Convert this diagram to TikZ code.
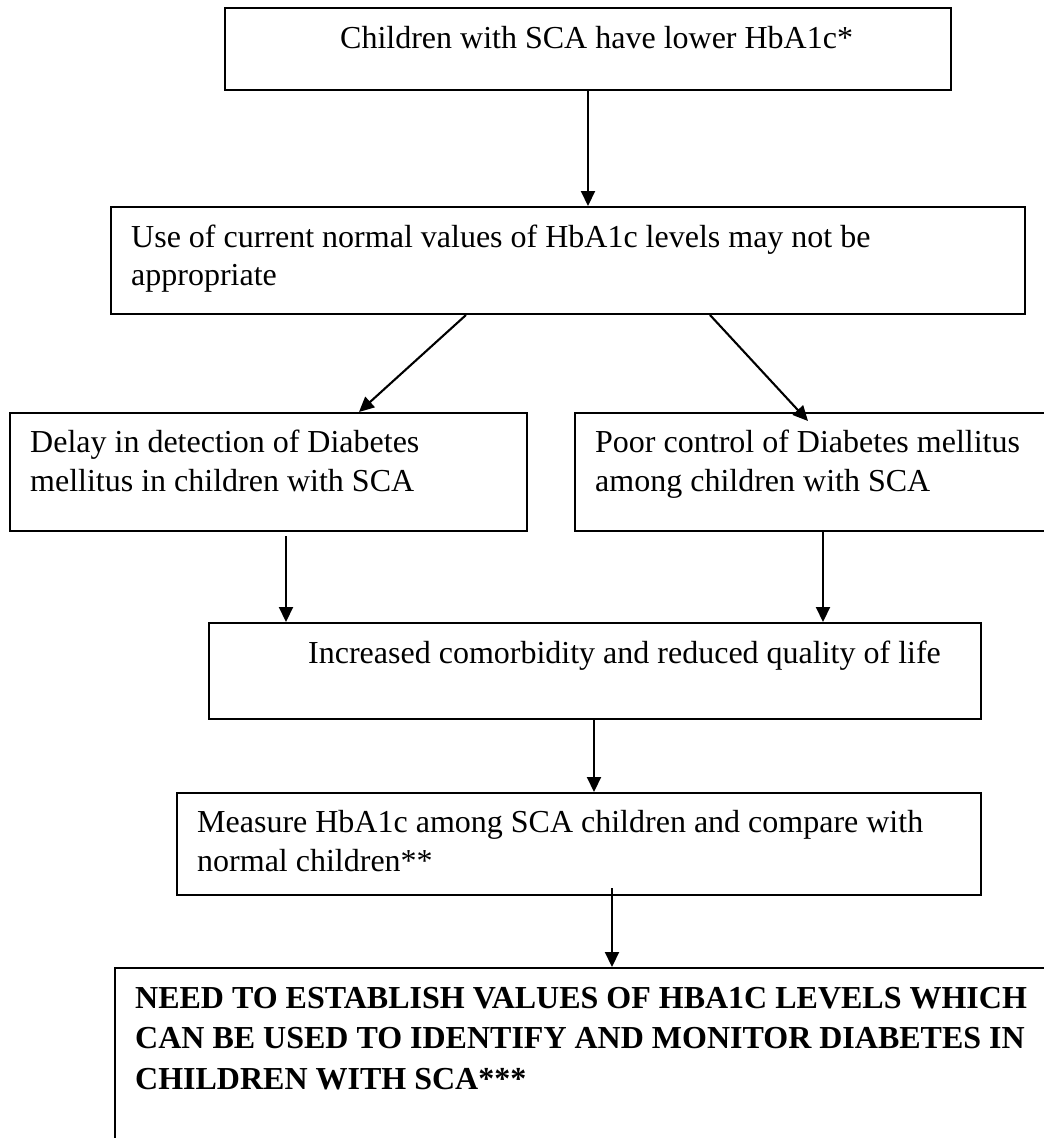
\documentclass[tikz,border=0pt]{standalone}
\usepackage{fontspec}
\setmainfont{Liberation Serif}
\usetikzlibrary{arrows.meta}
\tikzset{
  box/.style={draw=black, line width=2pt, inner sep=0pt, anchor=north west},
  txt/.style={anchor=base west, inner sep=0pt, font=\fontsize{32}{39}\selectfont},
  btxt/.style={anchor=base west, inner sep=0pt, font=\fontsize{32}{40}\selectfont\bfseries},
  arr/.style={line width=2.1pt, -{Triangle[length=15pt,width=14pt]}}
}
\begin{document}
\begin{tikzpicture}[x=1pt,y=-1pt]
\clip (0,0) rectangle (1044,1138);
\fill[white] (0,0) rectangle (1044,1138);
% boxes
\node[box, minimum width=726pt, minimum height=82pt] (b1) at (224,7) {};
\node[box, minimum width=914pt, minimum height=107pt] (b2) at (110,206) {};
\node[box, minimum width=517pt, minimum height=118pt] (b3) at (9,412) {};
\node[box, minimum width=480pt, minimum height=118pt] (b4) at (574,412) {};
\node[box, minimum width=772pt, minimum height=96pt] (b5) at (208,622) {};
\node[box, minimum width=804pt, minimum height=102pt] (b6) at (176,792) {};
\node[box, minimum width=940pt, minimum height=190pt] (b7) at (114,967) {};
% texts
\node[txt] (t1) at (340,48) {Children with SCA have lower HbA1c*};
\node[txt] (t2a) at (131,247) {Use of current normal values of HbA1c levels may not be};
\node[txt] (t2b) at (131,285) {appropriate};
\node[txt] (t3a) at (30,452) {Delay in detection of Diabetes};
\node[txt] (t3b) at (30,491) {mellitus in children with SCA};
\node[txt] (t4a) at (595,452) {Poor control of Diabetes mellitus};
\node[txt] (t4b) at (595,491) {among children with SCA};
\node[txt] (t5) at (308,663) {Increased comorbidity and reduced quality of life};
\node[txt] (t6a) at (197,832) {Measure HbA1c among SCA children and compare with};
\node[txt] (t6b) at (197,871) {normal children**};
\node[btxt] (t7a) at (135,1008) {NEED TO ESTABLISH VALUES OF HBA1C LEVELS WHICH};
\node[btxt] (t7b) at (135,1048) {CAN BE USED TO IDENTIFY AND MONITOR DIABETES IN};
\node[btxt] (t7c) at (135,1089) {CHILDREN WITH SCA***};
% connectors
\draw[arr] ([xshift=364pt]b1.south west) -- ([xshift=478pt]b2.north west);
\draw[arr] ([xshift=356pt]b2.south west) -- ([xshift=350pt]b3.north west);
\draw[arr] ([xshift=600pt]b2.south west) -- ([xshift=234pt,yshift=-9pt]b4.north west);
\draw[arr] ([xshift=277pt,yshift=-4pt]b3.south west) -- ([xshift=78pt]b5.north west);
\draw[arr] ([xshift=249pt]b4.south west) -- ([xshift=615pt]b5.north west);
\draw[arr] ([xshift=386pt]b5.south west) -- ([xshift=418pt]b6.north west);
\draw[arr] ([xshift=436pt,yshift=8pt]b6.south west) -- ([xshift=498pt]b7.north west);
\end{tikzpicture}
\end{document}
